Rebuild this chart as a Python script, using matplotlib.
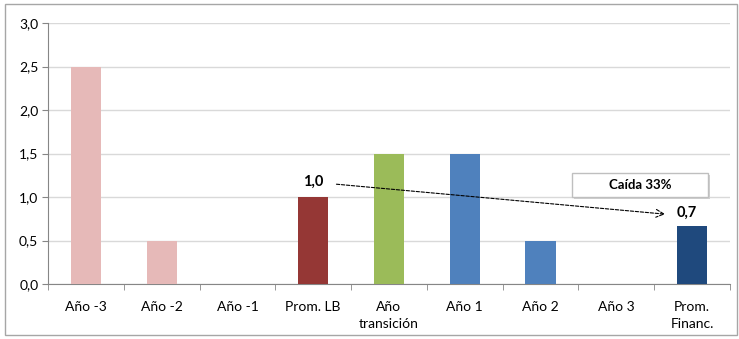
import matplotlib.pyplot as plt
from matplotlib.patches import Rectangle
from matplotlib.ticker import FuncFormatter

# data
categorias = ["Año -3", "Año -2", "Año -1", "Prom. LB", "Año\ntransición",
              "Año 1", "Año 2", "Año 3", "Prom.\nFinanc."]
valores = [2.5, 0.5, 0.0, 1.0, 1.5, 1.5, 0.5, 0.0, 0.67]
colores = ["#E6B9B8", "#E6B9B8", "#E6B9B8", "#953735", "#9BBB59",
           "#4F81BD", "#4F81BD", "#4F81BD", "#1F497D"]
etiqueta_lb = "1,0"
etiqueta_fin = "0,7"
texto_caida = "Caída 33%"

plt.rcParams['font.family'] = ['Lato', 'DejaVu Sans']

fig = plt.figure(figsize=(7.39, 3.39), dpi=100)
ax = fig.add_axes([48/739, 1-284/339, (730-48)/739, (284-23)/339])

# outer chart border
fig.patches.append(Rectangle((5/739, 4/339), 732/739, 331/339, transform=fig.transFigure,
                             fill=False, edgecolor="#A6A6A6", linewidth=1.0))

x = range(len(categorias))
ax.bar(x, valores, width=0.4, color=colores, zorder=3)

ax.set_xlim(-0.5, len(categorias)-0.5)
ax.set_ylim(0, 3.0)
ax.set_yticks([0, 0.5, 1.0, 1.5, 2.0, 2.5, 3.0])
ax.yaxis.set_major_formatter(FuncFormatter(lambda v, p: f"{v:.1f}".replace(".", ",")))
ax.yaxis.grid(True, color="#D9D9D9", linewidth=1.0, zorder=0)

ax.set_xticks(list(x))
ax.set_xticklabels(categorias, fontsize=10, linespacing=1.5)
ax.set_xticks([i + 0.5 for i in range(-1, len(categorias))], minor=True)
ax.tick_params(axis='x', which='major', length=0, pad=12)
ax.tick_params(axis='x', which='minor', length=4, color="#868686")
ax.tick_params(axis='y', length=4, color="#868686", labelsize=10, pad=3)
for lab in ax.get_xticklabels():
    lab.set_verticalalignment('top')

for s in ["top", "right"]:
    ax.spines[s].set_visible(False)
for s in ["left", "bottom"]:
    ax.spines[s].set_color("#868686")

# annotations
ax.text(3, 1.17, etiqueta_lb, ha='center', va='center', fontsize=10.5, fontweight='bold')
ax.text(7.93, 0.82, etiqueta_fin, ha='center', va='center', fontsize=10.5, fontweight='bold')
ax.annotate("", xy=(7.68, 0.80), xytext=(3.27, 1.15),
            arrowprops=dict(arrowstyle="->", linestyle=(0, (3, 1.5)), color="black", lw=0.8,
                            mutation_scale=14))

# text box with shadow
bx, by, bw, bh = 0.768, 0.333, 0.2, 0.092
ax.add_patch(Rectangle((bx + 0.003, by - 0.008), bw, bh, transform=ax.transAxes,
                       facecolor="#D0D0D0", edgecolor="none", zorder=4, clip_on=False))
ax.add_patch(Rectangle((bx, by), bw, bh, transform=ax.transAxes,
                       facecolor="white", edgecolor="#BFBFBF", linewidth=1.0, zorder=5,
                       clip_on=False))
ax.text(bx + bw/2, by + bh/2, texto_caida, transform=ax.transAxes, ha='center', va='center',
        fontsize=9.5, fontweight='bold', zorder=6)

fig.savefig("out.png", dpi=100)
